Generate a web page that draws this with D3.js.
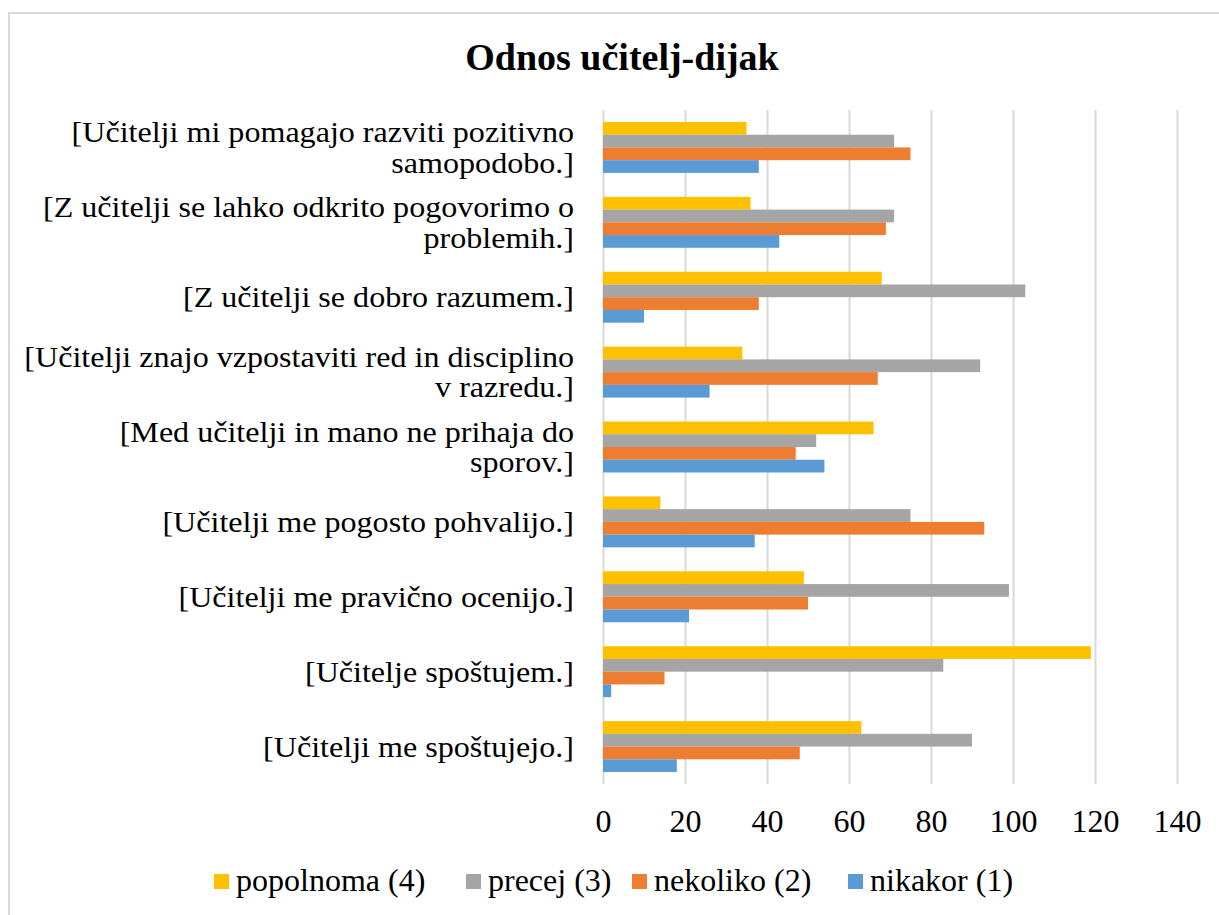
<!DOCTYPE html>
<html>
<head>
<meta charset="utf-8">
<script src="https://cdn.jsdelivr.net/npm/d3@7"></script>
<style>
  body { margin: 0; background: #fff; }
  svg text { font-family: "Liberation Serif", "Times New Roman", serif; fill: #000; }
</style>
</head>
<body>
<svg width="1219" height="915"></svg>
<script>
// data
var categories = [
  "[Učitelji mi pomagajo razviti pozitivno|samopodobo.]",
  "[Z učitelji se lahko odkrito pogovorimo o|problemih.]",
  "[Z učitelji se dobro razumem.]",
  "[Učitelji znajo vzpostaviti red in disciplino|v razredu.]",
  "[Med učitelji in mano ne prihaja do|sporov.]",
  "[Učitelji me pogosto pohvalijo.]",
  "[Učitelji me pravično ocenijo.]",
  "[Učitelje spoštujem.]",
  "[Učitelji me spoštujejo.]"
];
var seriesNames = ["popolnoma (4)", "precej (3)", "nekoliko (2)", "nikakor (1)"];
var seriesColors = ["#FFC000", "#A5A5A5", "#ED7D31", "#5B9BD5"];
var popolnoma = [35, 36, 68, 34, 66, 14, 49, 119, 63];
var precej    = [71, 71, 103, 92, 52, 75, 99, 83, 90];
var nekoliko  = [75, 69, 38, 67, 47, 93, 50, 15, 48];
var nikakor   = [38, 43, 10, 26, 54, 37, 21, 2, 18];
var xTicks = [0, 20, 40, 60, 80, 100, 120, 140];

var seriesValues = [popolnoma, precej, nekoliko, nikakor];

var svg = d3.select("svg");

// chart frame
svg.append("rect")
  .attr("x", 9).attr("y", 13)
  .attr("width", 1230).attr("height", 920)
  .attr("fill", "none")
  .attr("stroke", "#d9d9d9")
  .attr("stroke-width", 2);

// title
svg.append("text")
  .attr("x", 622).attr("y", 70)
  .attr("text-anchor", "middle")
  .style("font-size", "38px")
  .style("font-weight", "bold")
  .text("Odnos učitelj-dijak");

var x = d3.scaleLinear().domain([0, 140]).range([603, 1177]);

var y = d3.scaleBand()
  .domain(categories)
  .range([110, 784])
  .paddingInner(0.32)
  .paddingOuter(0.16);

var ySub = d3.scaleBand()
  .domain(seriesNames)
  .range([0, y.bandwidth()]);

// gridlines
var grid = svg.append("g")
  .attr("transform", "translate(0,784)")
  .call(d3.axisBottom(x).tickValues(xTicks).tickSize(-674).tickFormat(""));
grid.select(".domain").remove();
grid.selectAll("line").attr("stroke", "#d9d9d9").attr("stroke-width", 2);

// bars
var groups = svg.append("g").selectAll("g")
  .data(categories)
  .enter()
  .append("g")
    .attr("transform", d => "translate(0," + y(d) + ")");

groups.selectAll("rect")
  .data((d, i) => seriesNames.map((s, j) => ({ s: s, v: seriesValues[j][i], c: seriesColors[j] })))
  .enter()
  .append("rect")
    .attr("x", x(0))
    .attr("y", d => ySub(d.s))
    .attr("width", d => x(d.v) - x(0))
    .attr("height", ySub.bandwidth())
    .attr("fill", d => d.c);

// x axis labels
var xAxis = svg.append("g")
  .attr("transform", "translate(0,800)")
  .call(d3.axisBottom(x).tickValues(xTicks).tickSize(0));
xAxis.select(".domain").remove();
xAxis.selectAll("text")
  .attr("dy", "0.9em")
  .style("font-size", "32px")
  .style("font-family", "Liberation Serif")
  .attr("fill", "#000");

// category labels (text in the original is a bit stretched sideways)
var labels = svg.append("g").selectAll("text")
  .data(categories)
  .enter()
  .append("text")
    .attr("text-anchor", "end")
    .style("font-size", "30px")
    .attr("transform", d => "translate(574," + (y(d) + y.bandwidth() / 2) + ") scale(1.07,1)");

labels.each(function(d) {
  var lines = d.split("|");
  var t = d3.select(this);
  lines.forEach((ln, k) => {
    t.append("tspan")
      .attr("x", 0)
      .attr("y", (k - (lines.length - 1) / 2) * 30.5 + 10)
      .text(ln);
  });
});

// legend
var legendX = [214, 466, 632, 848];
var legend = svg.append("g").selectAll("g")
  .data(seriesNames)
  .enter()
  .append("g")
    .attr("transform", (d, i) => "translate(" + legendX[i] + ",874)");

legend.append("rect")
  .attr("width", 15).attr("height", 15)
  .attr("fill", (d, i) => seriesColors[i]);

legend.append("text")
  .attr("x", 22).attr("y", 17)
  .style("font-size", "32px")
  .text(d => d);
</script>
</body>
</html>
